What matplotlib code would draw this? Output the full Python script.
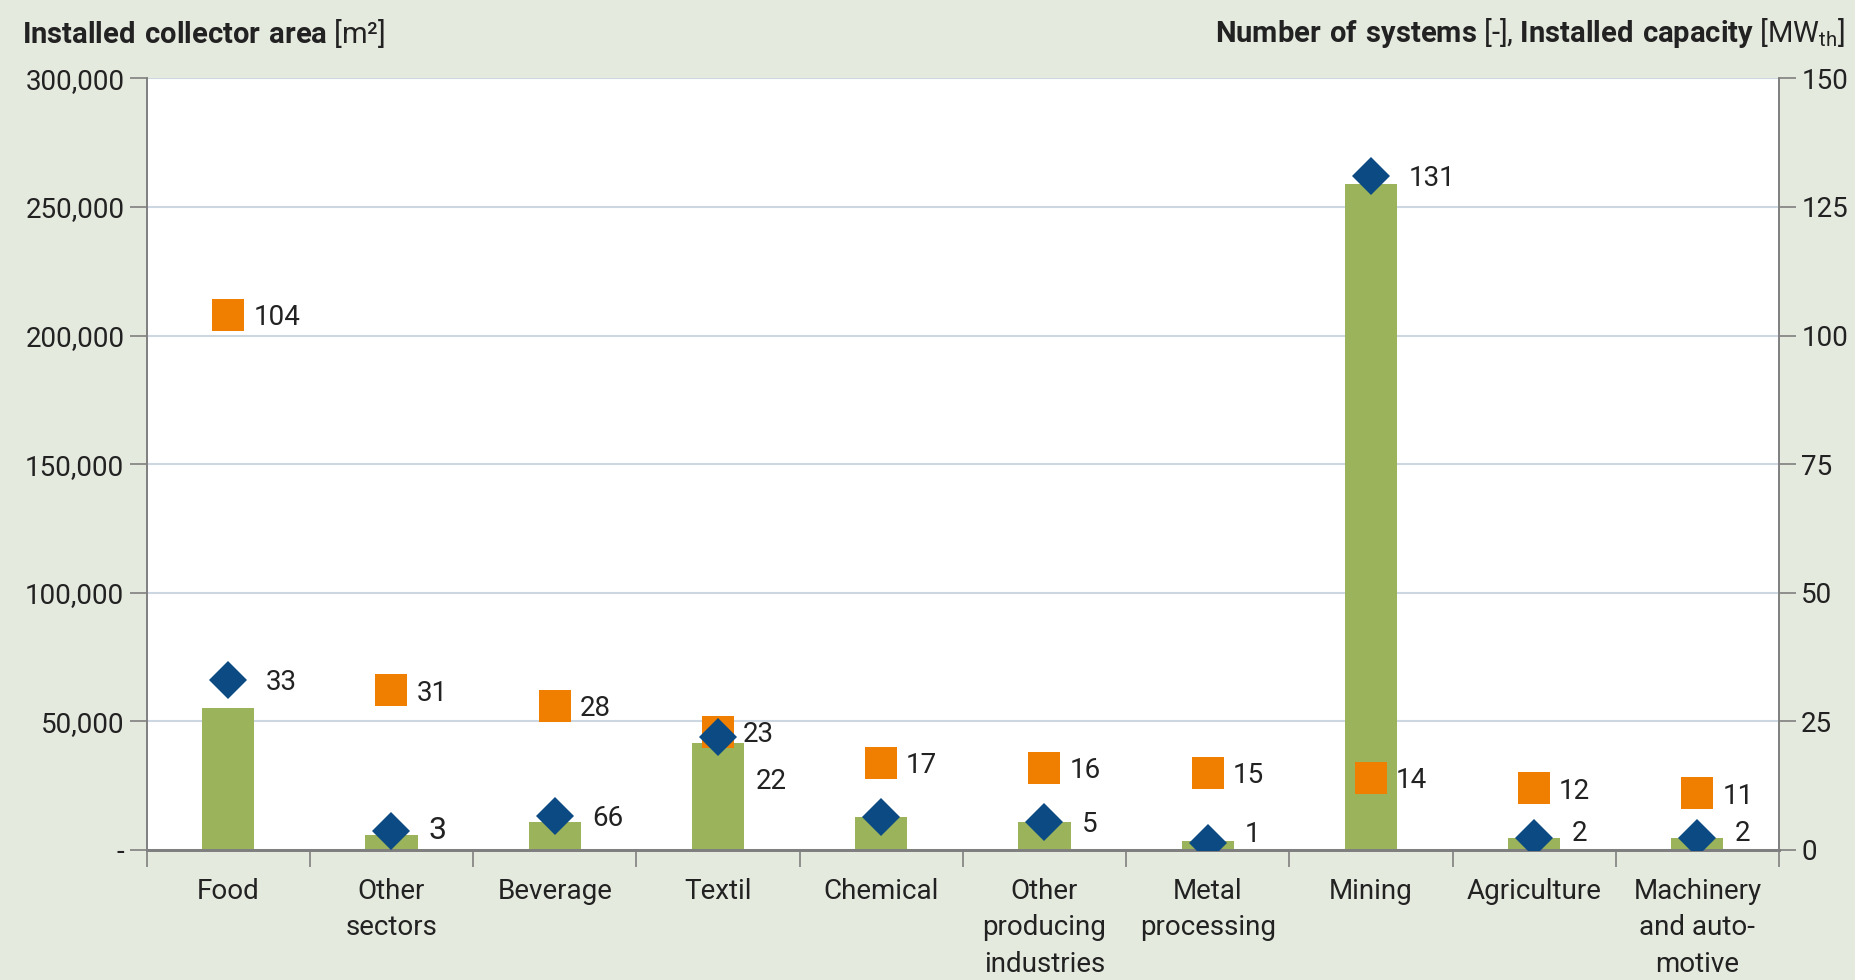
import matplotlib
matplotlib.use("Agg")
import matplotlib.pyplot as plt
import numpy as np

# Sector data
sectors = ["Food", "Other\nsectors", "Beverage", "Textil", "Chemical",
           "Other\nproducing\nindustries", "Metal\nprocessing", "Mining",
           "Agriculture", "Machinery\nand auto-\nmotive"]
collector_area = [55300, 5800, 11000, 41700, 12900, 11000, 3600, 259000, 4500, 4500]
num_systems = [104, 31, 28, 23, 17, 16, 15, 14, 12, 11]
capacity = [33, 3.6, 6.6, 22, 6.5, 5.5, 1.3, 131, 2.3, 2.3]
capacity_labels = ["33", "3", "66", "22", "", "5", "1", "131", "2", "2"]

plt.rcParams["font.family"] = ["Roboto", "DejaVu Sans"]
plt.rcParams["mathtext.fontset"] = "custom"
plt.rcParams["mathtext.rm"] = "Roboto"
plt.rcParams["mathtext.bf"] = "Roboto:bold"

bg = "#e5eadf"
green = "#9bb45c"
orange = "#f07f00"
blue = "#0b4a82"
grid_col = "#cdd7e2"
axis_col = "#7f7f7f"
text_col = "#222222"
fs = 20

fig = plt.figure(figsize=(18.56, 9.8), dpi=100, facecolor=bg)
ax = fig.add_axes([0.079, 0.1327, 0.8795, 0.7873])
ax.set_facecolor("white")
ax2 = ax.twinx()

x = np.arange(len(sectors))
ax.bar(x, collector_area, width=0.32, color=green, zorder=2)

ax.set_xlim(-0.5, len(sectors) - 0.5)
ax.set_ylim(0, 300000)
ax2.set_ylim(0, 150)

ax.set_yticks(np.arange(0, 300001, 50000))
ax.set_yticklabels(["-"] + [f"{v:,}" for v in range(50000, 300001, 50000)])
ax2.set_yticks(np.arange(0, 151, 25))
ax.grid(axis="y", color=grid_col, linewidth=1.5, zorder=0)
ax.set_axisbelow(True)

# category ticks sit between the bars
ax.set_xticks(x)
ax.set_xticklabels(sectors, linespacing=1.45)
ax.set_xticks(np.arange(-0.5, len(sectors)), minor=True)
ax.tick_params(axis="x", which="major", length=0, pad=20, labelsize=fs, labelcolor=text_col)
ax.tick_params(axis="x", which="minor", length=12, width=1.2, color=axis_col, direction="out")
ax.tick_params(axis="y", length=12, width=1.2, color=axis_col, labelsize=fs, labelcolor=text_col, pad=4)
ax2.tick_params(axis="y", length=12, width=1.2, color=axis_col, labelsize=fs, labelcolor=text_col, pad=4)

for a in (ax, ax2):
    a.spines["top"].set_visible(False)
    a.spines["left"].set_color(axis_col)
    a.spines["right"].set_color(axis_col)
    a.spines["left"].set_linewidth(1.2)
    a.spines["right"].set_linewidth(1.2)
    a.spines["bottom"].set_color(axis_col)
    a.spines["bottom"].set_linewidth(2)

ax2.plot(x, num_systems, linestyle="none", marker="s", markersize=23,
         color=orange, markeredgewidth=0, zorder=3)
ax2.plot(x, capacity, linestyle="none", marker="D", markersize=19,
         color=blue, markeredgewidth=0, zorder=4)

for xi, v in zip(x, num_systems):
    ax2.annotate(str(v), (xi, v), xytext=(18, -2), textcoords="offset points",
                 ha="left", va="center", fontsize=fs, color=text_col)

# capacity labels: Textil sits below its marker, the small ones near the axis are lifted
label_dy = {"22": -32, "1": 6, "2": 3, "3": 1}
for xi, v, lab in zip(x, capacity, capacity_labels):
    if not lab:
        continue
    dy = label_dy.get(lab, -2)
    size = 23 if lab == "3" else fs
    ax2.annotate(lab, (xi, v), xytext=(27, dy), textcoords="offset points",
                 ha="left", va="center", fontsize=size, color=text_col)

fig.text(0.012, 0.966, r"$\mathbf{Installed\ collector\ area}$ [m²]",
         fontsize=21, color=text_col, va="center", ha="left")
fig.text(0.994, 0.966,
         r"$\mathbf{Number\ of\ systems}$ [-], $\mathbf{Installed\ capacity}$ [MW$_{\mathrm{th}}$]",
         fontsize=21, color=text_col, va="center", ha="right")

fig.savefig("out.png", dpi=100, facecolor=bg)
